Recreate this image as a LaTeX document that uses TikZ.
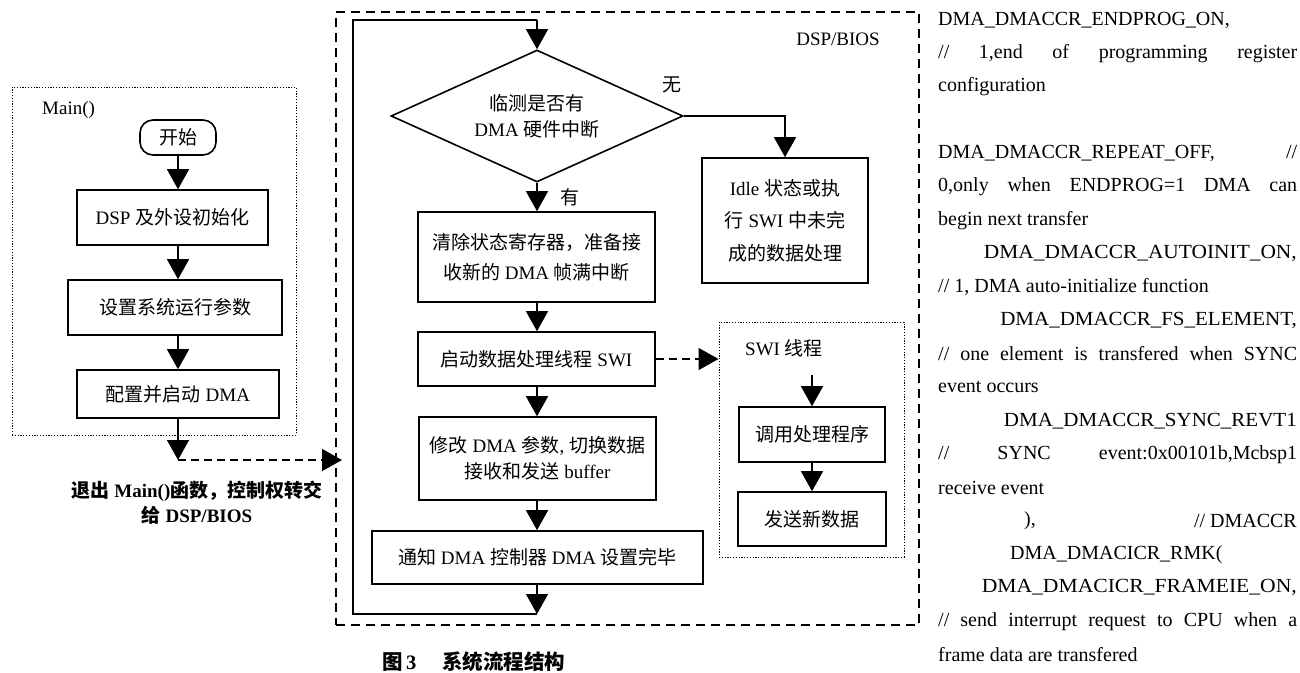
\documentclass[tikz,border=0pt]{standalone}
\usepackage{fontspec}
\usepackage{graphicx}
\setmainfont{Liberation Serif}
\newfontfamily\cjk{Noto Sans CJK SC}
\usetikzlibrary{arrows.meta,shapes.geometric}
\newcommand\zh[1]{{\cjk #1}}
\newcommand\sx[2]{\scalebox{#1}[1]{#2}}
\tikzset{
  box/.style={draw,line width=1.6pt,inner sep=0pt,align=center,font=\fontsize{19}{26}\selectfont},
  line/.style={line width=1.4pt},
  arr/.style={line width=1.4pt,-{Triangle[length=20pt,width=22pt]}},
  darr/.style={line width=1.4pt,dash pattern=on 8pt off 5pt,-{Triangle[length=20pt,width=22pt]}},
  bigdash/.style={draw,line width=1.5pt,dash pattern=on 9pt off 6pt,inner sep=0pt},
  dotbox/.style={draw,line width=1pt,dash pattern=on 1.2pt off 1.6pt,inner sep=0pt},
  lbl/.style={inner sep=0pt,font=\fontsize{19}{26}\selectfont},
  code/.style={inner sep=0pt,anchor=west,font=\fontsize{20}{22}\selectfont},
  codeR/.style={inner sep=0pt,anchor=east,font=\fontsize{20}{22}\selectfont},
}
\begin{document}
\begin{tikzpicture}[x=1pt,y=-1pt]
\fill[white] (0,0) rectangle (1300,672);
\useasboundingbox (0,0) rectangle (1300,672);

% ---------- Main() ----------
\node[dotbox,minimum width=284pt,minimum height=348pt] (mainbox) at (154,261) {};
\node[lbl,anchor=west] (mainlbl) at (42,110) {Main()};
\node[box,rounded corners=13pt,minimum width=76pt,minimum height=35pt] (start) at (178,137.5) {\zh{开始}};
\node[box,minimum width=191pt,minimum height=55pt] (init) at (172.5,217.5) {DSP \zh{及外设初始化}};
\node[box,minimum width=214pt,minimum height=55pt] (setp) at (175,307.5) {\zh{设置系统运行参数}};
\node[box,minimum width=202pt,minimum height=48pt] (cfg) at (178,394) {\zh{配置并启动} DMA};
\draw[arr] (start.south) -- (start.south |- init.north);
\draw[arr] (init.south -| start.south) -- (start.south |- setp.north);
\draw[arr] (setp.south -| start.south) -- (start.south |- cfg.north);
\coordinate (ex) at (178,460);
\coordinate (en) at (342,460);
\draw[arr] (cfg.south) -- (ex);
\draw[darr] (ex) -- (en);
\node[lbl,align=center,font=\fontsize{19}{25}\selectfont\bfseries] (exittxt) at (197,503)
  {\zh{退出} Main()\zh{函数，控制权转交}\\\zh{给} DSP/BIOS};

% ---------- DSP/BIOS ----------
\node[bigdash,minimum width=583pt,minimum height=613pt] (bios) at (627.5,318.5) {};
\node[lbl] (bioslbl) at (838,39) {DSP/BIOS};
\node[box,diamond,aspect=2.2,minimum width=292pt,minimum height=132pt] (dia) at (537,116)
  {\zh{临测是否有}\\DMA \zh{硬件中断}};
\node[lbl] (wu) at (672,85) {\zh{无}};
\node[lbl] (you) at (570,197) {\zh{有}};
\node[box,minimum width=166pt,minimum height=125pt,font=\fontsize{19}{32.5}\selectfont] (idle) at (785,220.5)
  {Idle \zh{状态或执}\\\zh{行} SWI \zh{中未完}\\\zh{成的数据处理}};
\node[box,minimum width=237pt,minimum height=90pt,font=\fontsize{19}{30}\selectfont] (clear) at (536.5,257)
  {\zh{清除状态寄存器，准备接}\\\zh{收新的} DMA \zh{帧满中断}};
\node[box,minimum width=237pt,minimum height=54pt] (startswi) at (536.5,359) {\zh{启动数据处理线程} SWI};
\node[box,minimum width=237pt,minimum height=83pt] (modify) at (537.5,458.5)
  {\zh{修改} DMA \zh{参数}, \zh{切换数据}\\\zh{接收和发送} buffer};
\node[box,minimum width=331pt,minimum height=53pt] (notify) at (537.5,557.5)
  {\zh{通知} DMA \zh{控制器} DMA \zh{设置完毕}};

\draw[arr] (dia.east) -| (idle.north);
\draw[arr] (dia.south) -- (dia.south |- clear.north);
\draw[arr] (dia.south |- clear.south) -- (dia.south |- startswi.north);
\draw[arr] (dia.south |- startswi.south) -- (dia.south |- modify.north);
\draw[arr] (dia.south |- modify.south) -- (dia.south |- notify.north);
\coordinate (lb) at (537,614);
\coordinate (lbl) at (353,614);
\coordinate (ltl) at (353,20);
\coordinate (lt) at (537,20);
\draw[arr] (dia.south |- notify.south) -- (lb);
\draw[line] (lb) -- (lbl) -- (ltl) -- (lt);
\draw[arr] (lt) -- (dia.north);

% ---------- SWI thread ----------
\node[dotbox,minimum width=185pt,minimum height=235pt] (swibox) at (811.5,439.5) {};
\node[lbl,anchor=west] (swilbl) at (745,348) {SWI \zh{线程}};
\coordinate (swiin) at (812,375);
\node[box,minimum width=146pt,minimum height=55pt] (call) at (812,434.5) {\zh{调用处理程序}};
\node[box,minimum width=148pt,minimum height=54pt] (send) at (812,519) {\zh{发送新数据}};
\draw[arr] (swiin) -- (call.north);
\draw[arr] (call.south) -- (send.north);
\draw[darr] (startswi.east) -- (startswi.east -| swibox.west);

% ---------- caption ----------
\node[lbl,anchor=west,font=\fontsize{20.5}{24}\selectfont\bfseries] (cap) at (382,662) {\zh{图}\,3\hspace{26pt}\zh{系统流程结构}};

% ---------- code column ----------
\node[code] (c1) at (938,20) {DMA\_DMACCR\_ENDPROG\_ON,};
\node[code] (c2) at (938,53.4) {\makebox[359pt][s]{// 1,end of programming register}};
\node[code] (c3) at (938,86.8) {configuration};
\node[code] (c5) at (938,153.6) {\makebox[359pt][s]{DMA\_DMACCR\_REPEAT\_OFF, //}};
\node[code] (c6) at (938,187) {\makebox[359pt][s]{0,only when ENDPROG=1 DMA can}};
\node[code] (c7) at (938,220.4) {begin next transfer};
\node[codeR] (c8) at (1297,253.8) {\sx{1.07}{DMA\_DMACCR\_AUTOINIT\_ON,}};
\node[code] (c9) at (938,287.2) {// 1, DMA auto-initialize function};
\node[codeR] (c10) at (1297,320.6) {\sx{1.05}{DMA\_DMACCR\_FS\_ELEMENT,}};
\node[code] (c11) at (938,354) {\makebox[359pt][s]{// one element is transfered when SYNC}};
\node[code] (c12) at (938,387.4) {event occurs};
\node[codeR] (c13) at (1297,420.8) {\sx{1.05}{DMA\_DMACCR\_SYNC\_REVT1}};
\node[code] (c14) at (938,454.2) {\makebox[359pt][s]{// SYNC event:0x00101b,Mcbsp1}};
\node[code] (c15) at (938,487.6) {receive event};
\node[code] (c16a) at (1024,521) {),};
\node[codeR] (c16b) at (1297,521) {// DMACCR};
\node[code] (c17) at (1010,554.4) {DMA\_DMACICR\_RMK(};
\node[codeR] (c18) at (1297,587.8) {\sx{1.08}{DMA\_DMACICR\_FRAMEIE\_ON,}};
\node[code] (c19) at (938,621.2) {\makebox[359pt][s]{// send interrupt request to CPU when a}};
\node[code] (c20) at (938,654.6) {frame data are transfered};
\end{tikzpicture}
\end{document}
